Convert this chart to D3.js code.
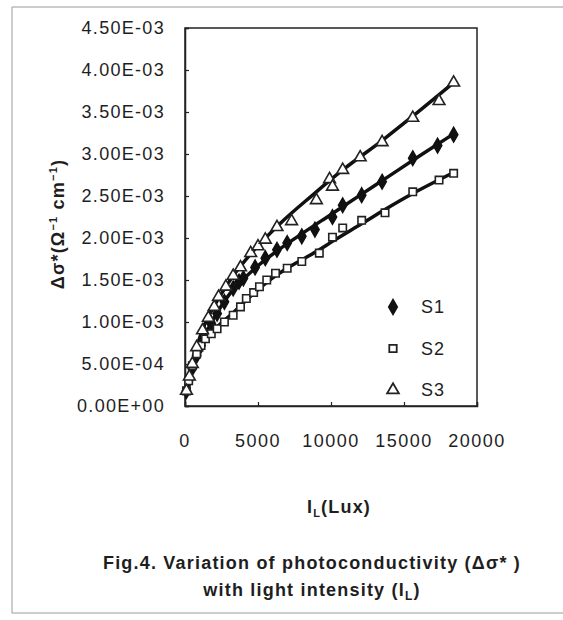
<!DOCTYPE html>
<html>
<head>
<meta charset="utf-8">
<script src="https://cdn.jsdelivr.net/npm/d3@7"></script>
<style>
  body { margin: 0; background: #fff; }
  svg text { font-family: "Liberation Sans", Arial, sans-serif; fill: #1e1e1e; }
</style>
</head>
<body>
<svg id="chart" width="563" height="620"></svg>
<script>
// ticks
var xTicks = [0, 5000, 10000, 15000, 20000];
var yTicks = [0, 0.0005, 0.001, 0.0015, 0.002, 0.0025, 0.003, 0.0035, 0.004, 0.0045];

// S1 (diamonds)
var s1X = [100, 300, 500, 800, 1100, 1400, 1800, 2200, 2700, 3300, 3700, 4000, 4800, 5500, 6300, 7000, 8000, 8900, 10100, 10800, 12100, 13500, 15600, 17300, 18400];
var s1Y = [0.18, 0.32, 0.45, 0.60, 0.72, 0.85, 0.98, 1.10, 1.24, 1.40, 1.48, 1.52, 1.65, 1.76, 1.86, 1.94, 2.02, 2.10, 2.25, 2.39, 2.51, 2.67, 2.95, 3.10, 3.23];
// S2 (squares)
var s2X = [100, 250, 500, 800, 1100, 1400, 1800, 2200, 2700, 3300, 3800, 4200, 4700, 5100, 5600, 6200, 7000, 8000, 9200, 10100, 10800, 12100, 13700, 15600, 17400, 18400];
var s2Y = [0.18, 0.30, 0.48, 0.62, 0.72, 0.80, 0.86, 0.92, 1.00, 1.08, 1.18, 1.28, 1.35, 1.42, 1.50, 1.58, 1.64, 1.72, 1.82, 2.01, 2.12, 2.21, 2.30, 2.55, 2.69, 2.77];
// S3 (triangles)
var s3X = [100, 300, 500, 800, 1200, 1600, 2000, 2300, 2800, 3300, 3800, 4500, 5000, 5500, 6300, 7300, 9000, 9900, 10100, 10800, 12000, 13500, 15600, 17400, 18400];
var s3Y = [0.18, 0.35, 0.50, 0.70, 0.90, 1.05, 1.18, 1.30, 1.42, 1.55, 1.65, 1.82, 1.90, 1.98, 2.13, 2.20, 2.45, 2.70, 2.61, 2.81, 2.96, 3.14, 3.43, 3.63, 3.85];

// fitted lines
var fit1X = [0, 300, 700, 1200, 2000, 3000, 4000, 5000, 6500, 8000, 10000, 12000, 14000, 16000, 18400];
var fit1Y = [0.15, 0.36, 0.56, 0.78, 1.05, 1.32, 1.51, 1.67, 1.87, 2.05, 2.28, 2.51, 2.74, 2.97, 3.24];
var fit2X = [0, 300, 700, 1400, 2200, 3300, 4200, 5100, 6200, 7000, 8000, 9200, 10100, 12100, 13700, 15600, 18400];
var fit2Y = [0.15, 0.38, 0.57, 0.78, 0.94, 1.11, 1.26, 1.40, 1.55, 1.64, 1.74, 1.86, 1.96, 2.17, 2.34, 2.53, 2.78];
var fit3X = [0, 500, 1200, 2300, 3300, 4500, 6500, 8800, 10800, 13500, 15600, 18400];
var fit3Y = [0.15, 0.53, 0.91, 1.28, 1.55, 1.81, 2.17, 2.52, 2.81, 3.16, 3.45, 3.85];

var legendNames = ["S1", "S2", "S3"];

var svg = d3.select("#chart");
var plotLeft = 185, plotRight = 477, plotTop = 28, plotBottom = 406;

var x = d3.scaleLinear().domain([0, 20000]).range([plotLeft, plotRight]);
var y = d3.scaleLinear().domain([0, 0.0045]).range([plotBottom, plotTop]);

function sci(v) {
    var parts = v.toExponential(2).split("e");
    var e = parts[1];
    return parts[0] + "E" + e[0] + e.slice(1).padStart(2, "0");
}

// outer frame of the scanned figure
svg.append("path")
   .attr("d", "M563,7 H12 V613 H563")
   .attr("fill", "none")
   .attr("stroke", "#9a9a9a")
   .attr("stroke-width", 1);

// plot box
svg.append("rect")
   .attr("x", plotLeft).attr("y", plotTop)
   .attr("width", plotRight - plotLeft).attr("height", plotBottom - plotTop)
   .attr("fill", "none")
   .attr("stroke", "#222")
   .attr("stroke-width", 1.5);

var yAxis = svg.append("g")
    .attr("transform", "translate(" + plotLeft + ",0)")
    .call(d3.axisRight(y).tickValues(yTicks).tickSize(4).tickFormat(""));
var xAxis = svg.append("g")
    .attr("transform", "translate(0," + plotBottom + ")")
    .call(d3.axisTop(x).tickValues(xTicks).tickSize(4).tickFormat(""));
[yAxis, xAxis].forEach(function(a) {
    a.select(".domain").attr("stroke", "#222").attr("stroke-width", 1.5);
    a.selectAll(".tick line").attr("stroke", "#222").attr("stroke-width", 1.2);
});

// tick labels
svg.selectAll(".ylab")
   .data(yTicks)
   .join("text")
   .attr("class", "ylab")
   .attr("x", plotLeft - 20)
   .attr("y", function(d) { return y(d); })
   .attr("dy", "0.35em")
   .attr("text-anchor", "end")
   .attr("font-size", 18)
   .attr("letter-spacing", 1.3)
   .text(sci);

svg.selectAll(".xlab")
   .data(xTicks)
   .join("text")
   .attr("class", "xlab")
   .attr("x", function(d) { return x(d); })
   .attr("y", 447)
   .attr("text-anchor", "middle")
   .attr("font-size", 18)
   .attr("letter-spacing", 1.5)
   .text(function(d) { return d; });

// fitted curves
var line = d3.line()
    .x(function(d) { return x(d[0]); })
    .y(function(d) { return y(d[1] / 1000); })
    .curve(d3.curveMonotoneX);

[[fit1X, fit1Y], [fit2X, fit2Y], [fit3X, fit3Y]].forEach(function(f) {
    var pts = f[0].map(function(v, i) { return [v, f[1][i]]; });
    svg.append("path")
       .datum(pts)
       .attr("d", line)
       .attr("fill", "none")
       .attr("stroke", "#111")
       .attr("stroke-width", 3.5)
       .attr("stroke-linejoin", "round");
});

// markers
var sym = [
    { type: d3.symbolDiamond, size: 60, fill: "#111", stroke: "#111" },
    { type: d3.symbolSquare, size: 55, fill: "#fff", stroke: "#222" },
    { type: d3.symbolTriangle, size: 60, fill: "#fff", stroke: "#222" }
];
var series = [[s1X, s1Y], [s2X, s2Y], [s3X, s3Y]];

series.forEach(function(s, k) {
    var pts = s[0].map(function(v, i) { return [v, s[1][i]]; });
    svg.append("g")
       .selectAll("path")
       .data(pts)
       .join("path")
       .attr("transform", function(d) { return "translate(" + x(d[0]) + "," + y(d[1] / 1000) + ")"; })
       .attr("d", d3.symbol().type(sym[k].type).size(sym[k].size))
       .attr("fill", sym[k].fill)
       .attr("stroke", sym[k].stroke)
       .attr("stroke-width", 1.6);
});

// legend
var leg = svg.append("g");
legendNames.forEach(function(name, k) {
    var ly = 307 + k * 41.5;
    leg.append("path")
       .attr("transform", "translate(393," + ly + ")")
       .attr("d", d3.symbol().type(sym[k].type).size(sym[k].size))
       .attr("fill", sym[k].fill)
       .attr("stroke", sym[k].stroke)
       .attr("stroke-width", 1.8);
    leg.append("text")
       .attr("x", 421)
       .attr("y", ly)
       .attr("dy", "0.35em")
       .attr("font-size", 18)
       .attr("letter-spacing", 1)
       .text(name);
});

// y title
var yt = svg.append("text")
    .attr("transform", "translate(64,224) rotate(-90)")
    .attr("text-anchor", "middle")
    .attr("font-size", 18)
    .attr("font-weight", "bold")
    .attr("letter-spacing", 1.2);
yt.append("tspan").text("Δσ*(Ω");
yt.append("tspan").attr("font-size", 11).attr("dy", -7).text("−1");
yt.append("tspan").attr("dy", 7).text(" cm");
yt.append("tspan").attr("font-size", 11).attr("dy", -7).text("−1");
yt.append("tspan").attr("dy", 7).text(")");

// x title
var xt = svg.append("text")
    .attr("x", 339).attr("y", 513)
    .attr("text-anchor", "middle")
    .attr("font-size", 18)
    .attr("font-weight", "bold")
    .attr("letter-spacing", 1.2);
xt.append("tspan").text("I");
xt.append("tspan").attr("font-size", 11).attr("dy", 4).text("L");
xt.append("tspan").attr("dy", -4).text("(Lux)");

// caption
var cap1 = svg.append("text")
    .attr("x", 312).attr("y", 569)
    .attr("text-anchor", "middle")
    .attr("font-size", 18)
    .attr("font-weight", "bold")
    .attr("letter-spacing", 1.2)
    .text("Fig.4. Variation  of photoconductivity (Δσ* )");
var cap2 = svg.append("text")
    .attr("x", 312).attr("y", 596)
    .attr("text-anchor", "middle")
    .attr("font-size", 18)
    .attr("font-weight", "bold")
    .attr("letter-spacing", 1.2);
cap2.append("tspan").text("with light intensity (I");
cap2.append("tspan").attr("font-size", 12).attr("dy", 4).text("L");
cap2.append("tspan").attr("dy", -4).text(")");
</script>
</body>
</html>
